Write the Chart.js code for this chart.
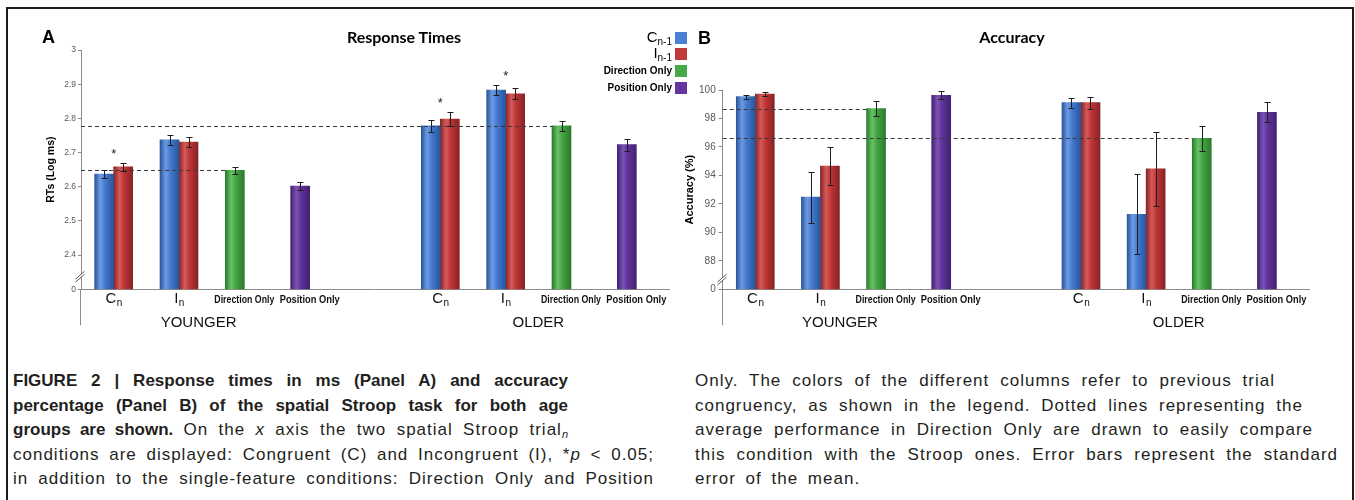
<!DOCTYPE html>
<html>
<head>
<meta charset="utf-8">
<script src="https://cdn.jsdelivr.net/npm/chart.js@4.4.1/dist/chart.umd.min.js"></script>
<style>
  html, body { margin: 0; padding: 0; background: #fff; }
  #fig { position: relative; width: 1355px; height: 500px; overflow: hidden; font-family: "Liberation Sans", Arial, sans-serif; color: #000; }
  #frame { position: absolute; left: 6px; top: 7px; width: 1344px; height: 600px; border: 2px solid #1b1b1b; border-bottom: none; }
  canvas { position: absolute; top: 0; }
  #ca { left: 0; }
  #cb { left: 680px; }
  .letter { position: absolute; font: bold 18px/1 "Liberation Sans", Arial, sans-serif; }
  .ttl { position: absolute; font: bold 16px/1 Lato, "Open Sans", sans-serif; transform: translateX(-50%); white-space: nowrap; }
  .lg { position: absolute; right: 668px; height: 16px; display: flex; align-items: center; justify-content: flex-end; white-space: nowrap; }
  .lg span.t { font: 15px/1 "Liberation Sans", Arial, sans-serif; }
  .lg span.t sub { font-size: 10px; vertical-align: -3px; }
  .lg span.b { font: bold 10px/1 "Liberation Sans", Arial, sans-serif; }
  .lg i { display: inline-block; width: 12px; height: 12px; margin-left: 3px; }
  .cap { position: absolute; font: 17px/24.5px "Liberation Sans", Arial, sans-serif; color: #231f20; letter-spacing: 1px; }
  .cap b { letter-spacing: 0; }
  .cap div { white-space: nowrap; text-align: justify; text-align-last: justify; }
  .cap div.last { text-align-last: left; word-spacing: 4px; }
  .cap sub { font-size: 11px; vertical-align: -3px; line-height: 0; letter-spacing: 0; }
</style>
</head>
<body>
<div id="fig">
  <div id="frame"></div>
  <canvas id="ca" width="680" height="340"></canvas>
  <canvas id="cb" width="675" height="340"></canvas>

  <div class="letter" style="left:42px;top:28px;">A</div>
  <div class="letter" style="left:698px;top:29px;">B</div>
  <div class="ttl" style="left:404px;top:29px;">Response Times</div>
  <div class="ttl" style="left:1012px;top:29px;">Accuracy</div>

  <div class="lg" style="top:30px;"><span class="t">C<sub>n-1</sub></span><i style="background:#4a7fd3"></i></div>
  <div class="lg" style="top:46px;"><span class="t">I<sub>n-1</sub></span><i style="background:#c0393b"></i></div>
  <div class="lg" style="top:63px;"><span class="b">Direction Only</span><i style="background:#46a846"></i></div>
  <div class="lg" style="top:80px;"><span class="b">Position Only</span><i style="background:#63359d"></i></div>

  <div class="cap" style="left:13px;top:369px;">
    <div style="width:555px;"><b>FIGURE 2 | Response times in ms (Panel A) and accuracy</b></div>
    <div style="width:555px;"><b>percentage (Panel B) of the spatial Stroop task for both age</b></div>
    <div style="width:555px;"><b>groups are shown.</b> On the <i>x</i> axis the two spatial Stroop trial<sub><i>n</i></sub></div>
    <div style="width:641px;">conditions are displayed: Congruent (C) and Incongruent (I), *<i>p</i> &lt; 0.05;</div>
    <div style="width:641px;">in addition to the single-feature conditions: Direction Only and Position</div>
  </div>
  <div class="cap" style="left:695px;top:369px;">
    <div style="width:580px;">Only. The colors of the different columns refer to previous trial</div>
    <div style="width:608px;">congruency, as shown in the legend. Dotted lines representing the</div>
    <div style="width:618px;">average performance in Direction Only are drawn to easily compare</div>
    <div style="width:643px;">this condition with the Stroop ones. Error bars represent the standard</div>
    <div class="last">error of the mean.</div>
  </div>
</div>

<script>
// x axis: trial_n condition (main text + subscript), nine slots, slot 4 is the gap
const catMain = ['C', 'I', 'Direction Only', 'Position Only', '', 'C', 'I', 'Direction Only', 'Position Only'];
const catSub  = ['n', 'n', '', '', '', 'n', 'n', '', ''];
const groupNames = ['YOUNGER', 'OLDER'];
const groupAt = [1.3, 6.5];

// Panel A - response times (log ms)
const rtPrevC    = [2.637, 2.737, null, null, null, 2.778, 2.883, null, null];
const rtPrevI    = [2.658, 2.731, null, null, null, 2.798, 2.872, null, null];
const rtDir      = [null, null, 2.648, null, null, null, null, 2.778, null];
const rtPos      = [null, null, null, 2.602, null, null, null, null, 2.723];
const rtPrevCErr = [0.011, 0.014, null, null, null, 0.017, 0.016, null, null];
const rtPrevIErr = [0.012, 0.014, null, null, null, 0.021, 0.016, null, null];
const rtDirErr   = [null, null, 0.011, null, null, null, null, 0.014, null];
const rtPosErr   = [null, null, null, 0.011, null, null, null, null, 0.017];
const rtSig = [0, 5, 6];

// Panel B - accuracy (%)
const accPrevC    = [99.53, 92.47, null, null, null, 99.11, 91.27, null, null];
const accPrevI    = [99.72, 94.65, null, null, null, 99.11, 94.46, null, null];
const accDir      = [null, null, 98.70, null, null, null, null, 96.60, null];
const accPos      = [null, null, null, 99.63, null, null, null, null, 98.43];
const accPrevCErr = [0.15, 1.78, null, null, null, 0.34, 2.80, null, null];
const accPrevIErr = [0.16, 1.32, null, null, null, 0.42, 2.58, null, null];
const accDirErr   = [null, null, 0.51, null, null, null, null, 0.89, null];
const accPosErr   = [null, null, null, 0.27, null, null, null, null, 0.70];
const accSig = [];

const BAR_W = 19;
const AXIS = '#8c8c8c';
const FONT = '"Liberation Sans", Arial, sans-serif';

// cylinder-ish shading across each bar, like the excel 3d columns
function shade(base, dark, light) {
  return function (c) {
    const chart = c.chart;
    if (c.type !== 'data' || !chart.chartArea || !chart.scales.x) return base;
    const cx = chart.scales.x.getPixelForValue(c.dataIndex);
    const left = c.dataset.stack === 'R' ? cx : cx - BAR_W;
    const g = chart.ctx.createLinearGradient(left, 0, left + BAR_W, 0);
    g.addColorStop(0, dark);
    g.addColorStop(0.3, light);
    g.addColorStop(0.55, base);
    g.addColorStop(1, dark);
    return g;
  };
}

const extras = {
  id: 'extras',
  afterDatasetsDraw(chart, args, o) {
    const { ctx, chartArea: a, scales: { x, y } } = chart;
    ctx.save();
    // dotted lines at the Direction Only means
    const dirMeta = chart.getDatasetMeta(2);
    ctx.setLineDash([4, 3]);
    ctx.strokeStyle = '#3a3a3a';
    ctx.lineWidth = 1.2;
    chart.data.datasets[2].data.forEach((v, i) => {
      if (v == null) return;
      const bar = dirMeta.data[i];
      const yy = Math.round(y.getPixelForValue(v)) + 0.5;
      ctx.beginPath();
      ctx.moveTo(a.left, yy);
      ctx.lineTo(bar.x - bar.width / 2, yy);
      ctx.stroke();
    });
    ctx.setLineDash([]);

    // error bars (SEM)
    ctx.strokeStyle = '#1e1e1e';
    ctx.lineWidth = 1;
    chart.data.datasets.forEach((ds, di) => {
      const meta = chart.getDatasetMeta(di);
      ds.data.forEach((v, i) => {
        if (v == null) return;
        const e = ds.err[i];
        const bx = Math.round(meta.data[i].x) + 0.5;
        const t = Math.round(y.getPixelForValue(v + e)) + 0.5;
        const b = Math.round(y.getPixelForValue(v - e)) + 0.5;
        ctx.beginPath();
        ctx.moveTo(bx, t); ctx.lineTo(bx, b);
        ctx.moveTo(bx - 3, t); ctx.lineTo(bx + 3, t);
        ctx.moveTo(bx - 3, b); ctx.lineTo(bx + 3, b);
        ctx.stroke();
      });
    });

    // significance stars
    ctx.fillStyle = '#222';
    ctx.font = '13px ' + FONT;
    ctx.textAlign = 'center';
    ctx.textBaseline = 'alphabetic';
    (o.sig || []).forEach(i => {
      let top = Infinity;
      chart.data.datasets.forEach(ds => {
        const v = ds.data[i];
        if (v != null) top = Math.min(top, y.getPixelForValue(v + ds.err[i]));
      });
      ctx.fillText('*', x.getPixelForValue(i), top - 5);
    });
    ctx.restore();
  },
  afterDraw(chart, args, o) {
    const { ctx, chartArea: a, scales: { x, y } } = chart;
    ctx.save();
    // y axis runs on below the category axis
    ctx.strokeStyle = AXIS;
    ctx.lineWidth = 1;
    const ax = Math.round(a.left) - 0.5;
    ctx.beginPath();
    ctx.moveTo(ax, a.bottom);
    ctx.lineTo(ax, a.bottom + 36);
    ctx.stroke();

    // axis break mark between "0" and the first real tick
    const yb = (y.getPixelForValue(o.min) + y.getPixelForValue(o.min + o.step)) / 2 + 5;
    ctx.fillStyle = '#fff';
    ctx.beginPath();
    ctx.moveTo(ax - 5, yb + 2); ctx.lineTo(ax + 4, yb - 6);
    ctx.lineTo(ax + 4, yb - 3); ctx.lineTo(ax - 5, yb + 5);
    ctx.closePath();
    ctx.fill();
    ctx.strokeStyle = '#555';
    ctx.beginPath();
    ctx.moveTo(ax - 5, yb + 2); ctx.lineTo(ax + 4, yb - 6);
    ctx.moveTo(ax - 5, yb + 5); ctx.lineTo(ax + 4, yb - 3);
    ctx.stroke();

    // category labels with subscripts
    ctx.fillStyle = '#111';
    ctx.textBaseline = 'alphabetic';
    catMain.forEach((m, i) => {
      if (!m) return;
      const cx = x.getPixelForValue(i);
      if (catSub[i]) {
        ctx.font = '15px ' + FONT;
        const w1 = ctx.measureText(m).width;
        ctx.font = '10px ' + FONT;
        const w2 = ctx.measureText(catSub[i]).width;
        const x0 = cx - (w1 + w2) / 2;
        ctx.textAlign = 'left';
        ctx.font = '15px ' + FONT;
        ctx.fillText(m, x0, a.bottom + 14);
        ctx.font = '10px ' + FONT;
        ctx.fillText(catSub[i], x0 + w1 + 0.5, a.bottom + 17);
      } else {
        ctx.textAlign = 'center';
        ctx.font = 'bold 10.5px ' + FONT;
        ctx.fillText(m, cx, a.bottom + 13.5, 60);
      }
    });
    // age groups
    ctx.font = '15px ' + FONT;
    ctx.textAlign = 'center';
    groupNames.forEach((g, k) => ctx.fillText(g, x.getPixelForValue(groupAt[k]), a.bottom + 38));
    ctx.restore();
  }
};

function panel(id, cfg) {
  const ds = (label, data, err, stack, base, dark, light) => ({
    label, data, err, stack,
    backgroundColor: shade(base, dark, light)
  });
  return new Chart(document.getElementById(id), {
    type: 'bar',
    data: {
      labels: catMain.map((m, i) => m + catSub[i]),
      datasets: [
        ds('C n-1', cfg.c, cfg.cErr, 'L', '#4279cf', '#2a5599', '#6d9be3'),
        ds('I n-1', cfg.i, cfg.iErr, 'R', '#bf3436', '#872325', '#d65a5a'),
        ds('Direction Only', cfg.dir, cfg.dirErr, 'L', '#43a443', '#2c7a2c', '#66c266'),
        ds('Position Only', cfg.pos, cfg.posErr, 'L', '#5f329a', '#432170', '#7c52b5')
      ]
    },
    options: {
      responsive: false,
      animation: false,
      events: [],
      layout: { padding: cfg.pad },
      datasets: { bar: { barThickness: BAR_W, clip: 0, borderWidth: 0 } },
      plugins: {
        legend: { display: false },
        tooltip: { enabled: false },
        extras: { sig: cfg.sig, min: cfg.min, step: cfg.step }
      },
      scales: {
        x: {
          grid: { display: false },
          border: { color: AXIS },
          ticks: { display: false },
          afterFit: s => { s.height = cfg.xH; }
        },
        y: {
          min: cfg.min, max: cfg.max,
          grid: { display: true, drawOnChartArea: false, tickLength: cfg.tickLen, color: AXIS },
          border: { color: AXIS },
          ticks: {
            stepSize: cfg.step, color: '#595959', padding: cfg.tickPad,
            font: { family: FONT, size: cfg.tickSize },
            callback: v => Math.abs(v - cfg.min) < 1e-6 ? '0' : String(+v.toFixed(1))
          },
          title: {
            display: true, text: cfg.yTitle, color: '#000',
            font: { family: FONT, size: cfg.titleSize, weight: 'bold' },
            padding: { top: cfg.titlePad, bottom: 0 }
          },
          afterFit: s => { s.width = cfg.yW; }
        }
      }
    },
    plugins: [extras]
  });
}

panel('ca', {
  c: rtPrevC, i: rtPrevI, dir: rtDir, pos: rtPos,
  cErr: rtPrevCErr, iErr: rtPrevIErr, dirErr: rtDirErr, posErr: rtPosErr,
  sig: rtSig, min: 2.3, max: 3.0, step: 0.1,
  pad: { left: 0, top: 50, right: 11, bottom: 0 },
  yW: 81, xH: 50.7, tickLen: 3, tickPad: 2, tickSize: 8.5,
  yTitle: 'RTs (Log ms)', titleSize: 10.5, titlePad: 44.5
});

panel('cb', {
  c: accPrevC, i: accPrevI, dir: accDir, pos: accPos,
  cErr: accPrevCErr, iErr: accPrevIErr, dirErr: accDirErr, posErr: accPosErr,
  sig: accSig, min: 86, max: 100, step: 2,
  pad: { left: 0, top: 90, right: 46, bottom: 0 },
  yW: 42.7, xH: 50.7, tickLen: 4, tickPad: 3, tickSize: 10,
  yTitle: 'Accuracy (%)', titleSize: 11, titlePad: 3.4
});
</script>
</body>
</html>
